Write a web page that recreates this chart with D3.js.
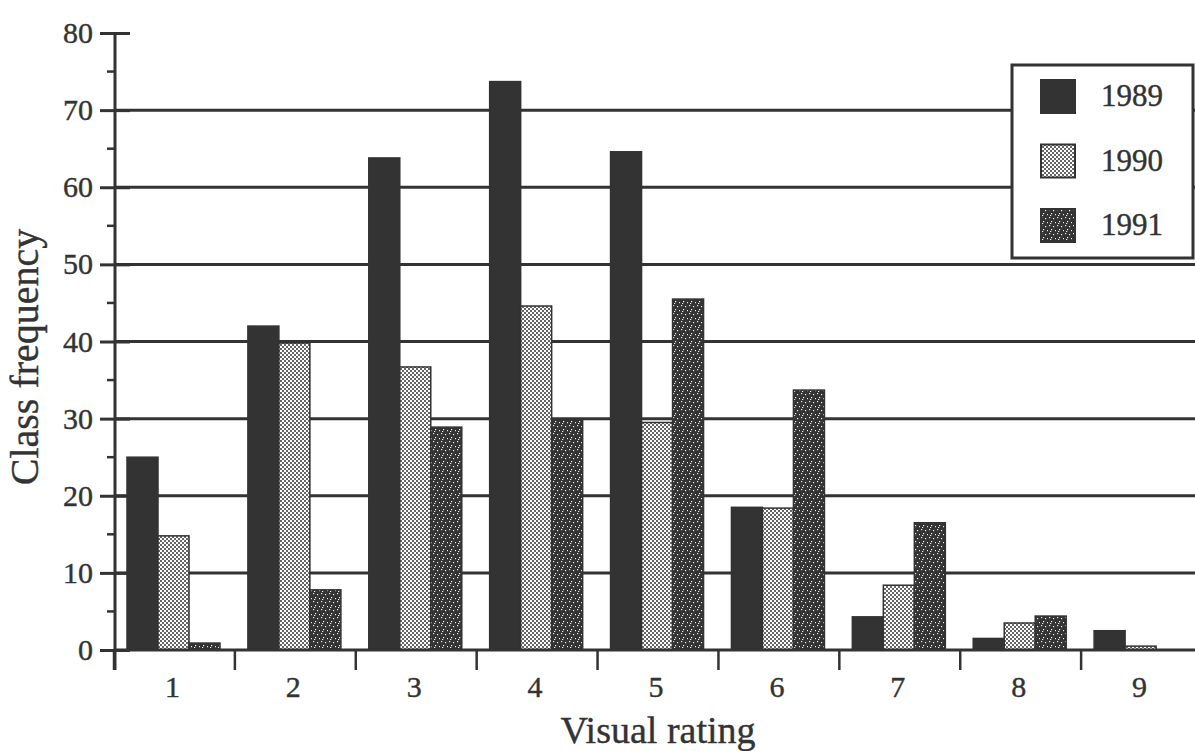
<!DOCTYPE html>
<html>
<head>
<meta charset="utf-8">
<script src="https://cdn.jsdelivr.net/npm/d3@7"></script>
<style>
  html, body { margin: 0; padding: 0; background: #fff; }
  svg { display: block; }
  text { font-family: "Liberation Serif", "Times New Roman", serif; fill: #333; stroke: #333; stroke-width: 0.4px; }
</style>
</head>
<body>
<script>
const categories = ["1", "2", "3", "4", "5", "6", "7", "8", "9"];
const seriesNames = ["1989", "1990", "1991"];
const values1989 = [25, 42, 63.8, 73.7, 64.6, 18.5, 4.3, 1.5, 2.5];
const values1990 = [14.8, 39.8, 36.7, 44.6, 29.5, 18.4, 8.4, 3.5, 0.5];
const values1991 = [0.9, 7.8, 28.9, 29.9, 45.5, 33.7, 16.5, 4.4, 0];
const yTicks = [0, 10, 20, 30, 40, 50, 60, 70, 80];
const yMinorTicks = [5, 15, 25, 35, 45, 55, 65, 75];

const W = 1195, H = 751;
const ink = "#333";
const svg = d3.select("body").append("svg").attr("width", W).attr("height", H);

const defs = svg.append("defs");
// light stipple (1990)
const pLight = defs.append("pattern").attr("id", "pLight").attr("patternUnits", "userSpaceOnUse")
  .attr("width", 4).attr("height", 4);
pLight.append("rect").attr("width", 4).attr("height", 4).attr("fill", "#fff");
pLight.append("circle").attr("cx", 1).attr("cy", 1).attr("r", 1.0).attr("fill", ink);
pLight.append("circle").attr("cx", 3).attr("cy", 3).attr("r", 1.0).attr("fill", ink);
// dark with white speckles (1991)
const pDark = defs.append("pattern").attr("id", "pDark").attr("patternUnits", "userSpaceOnUse")
  .attr("width", 8).attr("height", 8);
pDark.append("rect").attr("width", 8).attr("height", 8).attr("fill", ink);
[[1,1],[5,2],[3,5],[7,6],[2,7]].forEach(([a,b]) =>
  pDark.append("rect").attr("x", a).attr("y", b).attr("width", 1.2).attr("height", 1.2).attr("fill", "#eee"));

const fills = { "1989": ink, "1990": "url(#pLight)", "1991": "url(#pDark)" };
const seriesData = { "1989": values1989, "1990": values1990, "1991": values1991 };

const x0 = 114, x1 = 1202, yBase = 650, yTop = 33;
const x = d3.scaleBand().domain(categories).range([x0, x1]).paddingInner(0).paddingOuter(0);
const y = d3.scaleLinear().domain([0, 80]).range([yBase, yTop]);
const xs = d3.scaleBand().domain(seriesNames).range([13, 106]);

// gridlines 10..70
svg.append("g").selectAll("line").data(yTicks.filter(t => t > 0 && t < 80)).join("line")
  .attr("x1", x0).attr("x2", W).attr("y1", d => y(d)).attr("y2", d => y(d))
  .attr("stroke", ink).attr("stroke-width", 3);

// bars
const rows = [];
categories.forEach((c, i) => seriesNames.forEach(s => rows.push({ c, s, v: seriesData[s][i] })));
svg.append("g").selectAll("rect").data(rows.filter(d => d.v > 0)).join("rect")
  .attr("x", d => x(d.c) + xs(d.s))
  .attr("width", xs.bandwidth())
  .attr("y", d => y(d.v))
  .attr("height", d => y(0) - y(d.v))
  .attr("fill", d => fills[d.s])
  .attr("stroke", ink).attr("stroke-width", 1.5);

// x axis baseline
svg.append("line").attr("x1", x0).attr("x2", W).attr("y1", yBase).attr("y2", yBase)
  .attr("stroke", ink).attr("stroke-width", 3);
// x boundary ticks
const bounds = categories.map(c => x(c)).concat([x(categories[categories.length - 1]) + x.bandwidth()]);
svg.append("g").selectAll("line").data(bounds).join("line")
  .attr("x1", d => d).attr("x2", d => d).attr("y1", yBase).attr("y2", yBase + 20)
  .attr("stroke", ink).attr("stroke-width", 2.5);
// x labels via axis
const xAxis = svg.append("g").attr("transform", `translate(-2,${yBase})`)
  .call(d3.axisBottom(x).tickSize(0).tickPadding(26));
xAxis.select(".domain").remove();
xAxis.selectAll("text").style("font-size", "30px").style("font-family", "Liberation Serif").attr("fill", ink);

// y axis
svg.append("line").attr("x1", x0 + 1).attr("x2", x0 + 1).attr("y1", yTop).attr("y2", yBase + 20)
  .attr("stroke", ink).attr("stroke-width", 3);
const yAxis = svg.append("g").attr("transform", `translate(${x0 + 1},0)`)
  .call(d3.axisLeft(y).tickValues(yTicks).tickSize(15).tickPadding(7));
yAxis.select(".domain").remove();
yAxis.selectAll("line").attr("stroke", ink).attr("stroke-width", 3).attr("x2", -15).attr("x1", 15);
yAxis.selectAll("text").style("font-size", "30px").style("font-family", "Liberation Serif").attr("fill", ink);
svg.append("g").selectAll("line").data(yMinorTicks).join("line")
  .attr("x1", x0 - 7).attr("x2", x0 + 1).attr("y1", d => y(d)).attr("y2", d => y(d))
  .attr("stroke", ink).attr("stroke-width", 2.5);

// axis titles
svg.append("text").attr("x", 658).attr("y", 743).attr("text-anchor", "middle")
  .style("font-size", "38px").text("Visual rating");
svg.append("text").attr("transform", "translate(38,357) rotate(-90)").attr("text-anchor", "middle")
  .style("font-size", "40px").text("Class frequency");

// legend
const lg = svg.append("g");
lg.append("rect").attr("x", 1012).attr("y", 65).attr("width", 181).attr("height", 193)
  .attr("fill", "#fff").attr("stroke", ink).attr("stroke-width", 3);
const ly = d3.scalePoint().domain(seriesNames).range([96, 225]);
lg.selectAll("rect.sw").data(seriesNames).join("rect").attr("class", "sw")
  .attr("x", 1041).attr("y", d => ly(d) - 16).attr("width", 34).attr("height", 33)
  .attr("fill", d => fills[d]).attr("stroke", ink).attr("stroke-width", 2);
lg.selectAll("text").data(seriesNames).join("text")
  .attr("x", 1101).attr("y", d => ly(d) + 10)
  .style("font-size", "31px").text(d => d);
</script>
</body>
</html>
